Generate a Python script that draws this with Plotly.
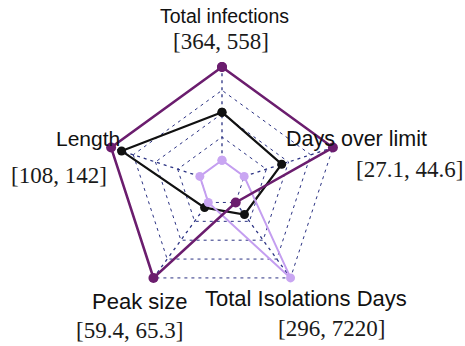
import plotly.graph_objects as go

# Axes of the radar chart (clockwise from the top) and the value range of each
categories = ["Total infections", "Days over limit", "Total Isolations Days", "Peak size", "Length"]
range_min = [364, 27.1, 296, 59.4, 108]
range_max = [558, 44.6, 7220, 65.3, 142]
range_labels = ["[364, 558]", "[27.1, 44.6]", "[296, 7220]", "[59.4, 65.3]", "[108, 142]"]

# Series values in the original units
series_dark = [558, 44.6, 296, 65.3, 142]
series_black = [464, 34.5, 1400, 59.8, 138]
series_light = [364, 27.1, 7220, 59.4, 108]

# Each axis maps its minimum to the first ring (0.2) and its maximum to the outer ring (1.0)
RING_MIN = 0.2


def normalise(values):
    return [RING_MIN + (1 - RING_MIN) * (v - lo) / (hi - lo)
            for v, lo, hi in zip(values, range_min, range_max)]


W, H = 465, 346
CX, CY, R = 222, 183.6, 116.6  # plot centre and radius of the outer ring in pixels
R_PAD = 1.04                   # radial headroom so lines on the outer ring are not clipped
RP = R * R_PAD

grid_col = "#2b3283"
grid_dash = "3px,4px"
grid_w = 1.3

fig = go.Figure()

# Spokes from the first ring to the outer ring, drawn as dotted polar lines
for cat in categories:
    fig.add_trace(go.Scatterpolar(
        r=[RING_MIN, 1.0], theta=[cat, cat], mode="lines",
        line=dict(color=grid_col, width=grid_w, dash=grid_dash),
        hoverinfo="skip", showlegend=False,
    ))

styles = [
    (series_black, "#111111", 2.2, 9, "#111111"),
    (series_light, "#c49ef0", 2.0, 9, "#c9a6f2"),
    (series_dark, "#6b1d6e", 2.6, 10, "#6b1d6e"),
]
for vals, col, lw, ms, mcol in styles:
    r = normalise(vals)
    fig.add_trace(go.Scatterpolar(
        r=r + r[:1],
        theta=categories + categories[:1],
        mode="lines+markers",
        line=dict(color=col, width=lw),
        marker=dict(color=mcol, size=ms),
        cliponaxis=False,
        hoverinfo="skip",
        showlegend=False,
    ))

fig.update_layout(
    width=W, height=H,
    margin=dict(l=0, r=0, t=0, b=0),
    paper_bgcolor="white",
    plot_bgcolor="white",
    polar=dict(
        domain=dict(x=[(CX - RP) / W, (CX + RP) / W],
                    y=[(H - CY - RP) / H, (H - CY + RP) / H]),
        bgcolor="white",
        gridshape="linear",
        radialaxis=dict(
            range=[0, R_PAD],
            tickvals=[0.2, 0.4, 0.6, 0.8, 1.0],
            showticklabels=False,
            ticks="",
            showline=False,
            gridcolor=grid_col,
            griddash=grid_dash,
            gridwidth=grid_w,
        ),
        angularaxis=dict(
            rotation=90,
            direction="clockwise",
            showticklabels=False,
            ticks="",
            showline=False,
            showgrid=False,
        ),
    ),
)

# Axis names (sans) and their value ranges (serif), placed in pixel coordinates
name_pos = [(224.5, 16, 19.5), (356.7, 139, 21.5), (305.8, 298.5, 22), (139.2, 301, 22), (87.5, 138.5, 21)]
range_pos = [(220.8, 41.5), (409.7, 169.5), (331.2, 328.5), (129.2, 330), (59.2, 175.5)]

for name, (x, y, fs) in zip(categories, name_pos):
    fig.add_annotation(
        text=name, x=x / W, y=1 - y / H, xref="paper", yref="paper",
        xanchor="center", yanchor="middle", showarrow=False,
        font=dict(family="Liberation Sans, Arial, sans-serif", size=fs, color="#111111"),
    )
for lab, (x, y) in zip(range_labels, range_pos):
    fig.add_annotation(
        text=lab, x=x / W, y=1 - y / H, xref="paper", yref="paper",
        xanchor="center", yanchor="middle", showarrow=False,
        font=dict(family="Liberation Serif, Times New Roman, serif", size=23, color="#1a1a1a"),
    )

fig.write_html("out.html")
